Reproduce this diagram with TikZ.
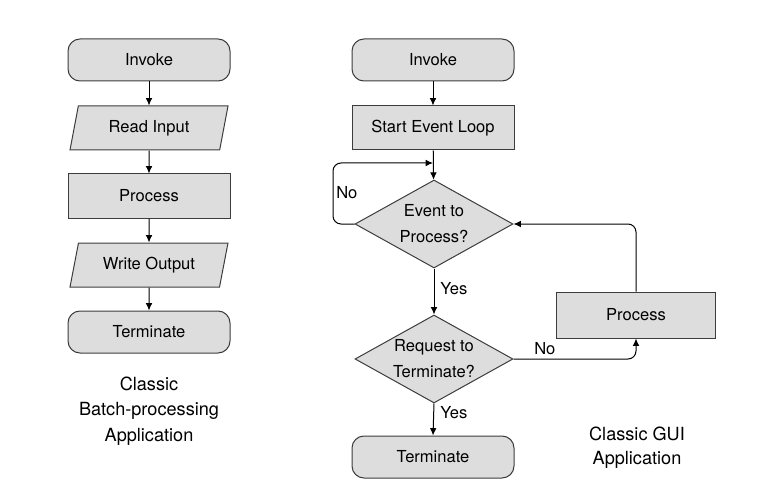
\documentclass[tikz,border=0pt]{standalone}
\usepackage{fontspec}
\setmainfont{TeX Gyre Heros}
\usetikzlibrary{shapes.geometric,arrows.meta}
\definecolor{boxfill}{RGB}{221,221,221}
\definecolor{edge}{RGB}{60,60,60}
\begin{document}
\begin{tikzpicture}[x=0.75pt,y=-0.75pt,
  font=\fontsize{12.4}{14.5}\selectfont,
  base/.style={draw=edge,fill=boxfill,line width=0.75pt,inner sep=0pt,align=center},
  roundbox/.style={base,rectangle,rounded corners=9pt,minimum width=162*0.75pt,minimum height=42*0.75pt},
  plainbox/.style={base,rectangle,minimum width=162*0.75pt,minimum height=44*0.75pt},
  parabox/.style={base,trapezium,trapezium left angle=62,trapezium right angle=118,trapezium stretches body,minimum width=158*0.75pt,minimum height=44*0.75pt},
  decision/.style={base,diamond,aspect=1.8,minimum width=158*0.75pt,minimum height=88*0.75pt,font=\fontsize{12.4}{19.5}\selectfont},
  conn/.style={draw=black,line width=0.75pt,-{Latex[length=5.5pt,width=5pt]}},
  lbl/.style={inner sep=0pt}]
\useasboundingbox (0,0) rectangle (760,499);
% left column
\node[roundbox] (linv) at (149,60) {Invoke};
\node[parabox] (lread) at (149,128) {Read Input};
\node[plainbox] (lproc) at (149,196) {Process};
\node[parabox] (lwrite) at (149,265) {Write Output};
\node[roundbox] (lterm) at (149,332) {Terminate};
\node[lbl,align=center,font=\fontsize{13.6}{19}\selectfont] (lcap) at (149,411) {Classic\\Batch-processing\\Application};
\draw[conn] (linv) -- (lread);
\draw[conn] (lread) -- (lproc);
\draw[conn] (lproc) -- (lwrite);
\draw[conn] (lwrite) -- (lterm);
% right column
\node[roundbox] (rinv) at (433,60) {Invoke};
\node[plainbox] (rloop) at (433,128) {Start Event Loop};
\node[decision] (rev) at (434,224) {Event to\\Process?};
\node[decision] (rreq) at (434,359) {Request to\\Terminate?};
\node[roundbox] (rterm) at (433,457) {Terminate};
\node[plainbox,minimum width=159*0.75pt,minimum height=46*0.75pt] (rproc) at (636,315) {Process};
\node[lbl,align=center,font=\fontsize{13.6}{18}\selectfont] (rcap) at (637,448) {Classic GUI\\Application};
\coordinate (loopin) at (433,163);
\coordinate (loopl) at (333,224);
\draw[conn] (rinv) -- (rloop);
\draw[conn] (rloop) -- (rev);
\draw[conn,rounded corners=6pt] (rev.west) -- (loopl) -- (loopl |- loopin) -- (loopin);
\draw[conn] (rev.south) -- (rreq.north);
\draw[conn] (rreq.south) -- (rterm.north);
\draw[conn,rounded corners=6pt] (rreq.east) -- (rreq.east -| rproc.south) -- (rproc.south);
\draw[conn,rounded corners=6pt] (rproc.north) -- (rproc.north |- rev.east) -- (rev.east);
\node[lbl,anchor=west] (lno1) at (336,193) {No};
\node[lbl,anchor=west] (lyes1) at (440,289) {Yes};
\node[lbl,anchor=west] (lno2) at (534,349) {No};
\node[lbl,anchor=west] (lyes2) at (440,413) {Yes};
\end{tikzpicture}
\end{document}
